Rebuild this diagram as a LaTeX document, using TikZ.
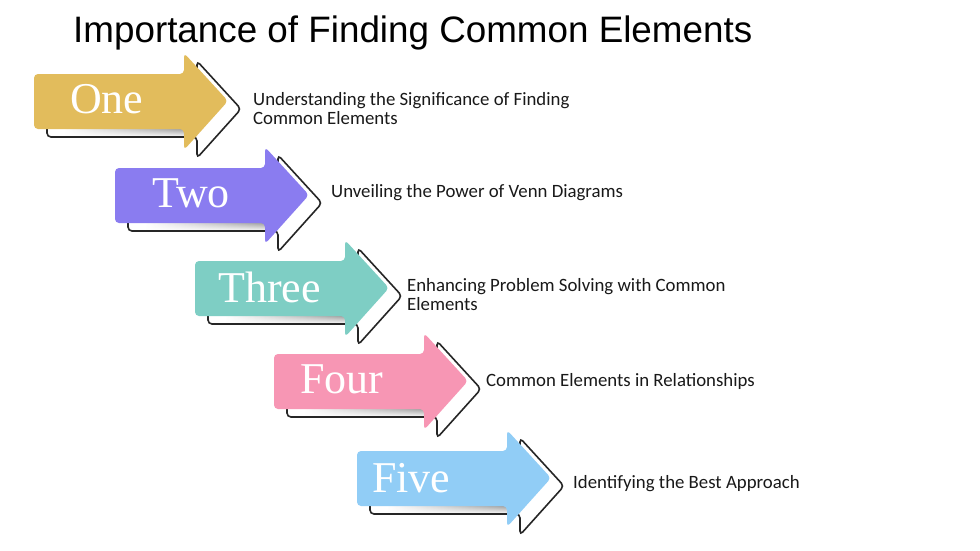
\documentclass[tikz,border=0pt]{standalone}
\usepackage{fontspec}
\setmainfont{Liberation Serif}
\newfontfamily\titlefont{Liberation Sans}
\newfontfamily\bodyfont{Carlito}
\usetikzlibrary{fadings}
\definecolor{cOne}{RGB}{226,188,92}
\definecolor{cTwo}{RGB}{138,124,240}
\definecolor{cThree}{RGB}{126,206,196}
\definecolor{cFour}{RGB}{247,150,180}
\definecolor{cFive}{RGB}{145,205,246}
\newcommand\ArrowRow[3]{%
 \begin{scope}[shift={(#1,#2)}]
  \path[fill=white, rounded corners=4] (13,-19) -- (163,-19) -- (163,-40) -- (207,8) -- (163,57) -- (163,36) -- (13,36) -- cycle;
  \shade[left color=white, right color=black!45, path fading=south] (30,27) rectangle (163,36);
  \draw[line width=1.6pt, draw=black!85, rounded corners=4] (13,-19) -- (163,-19) -- (163,-40) -- (207,8) -- (163,57) -- (163,36) -- (13,36) -- cycle;
  \fill[#3, rounded corners=4] (0,-27) -- (150,-27) -- (150,-48) -- (194,0) -- (150,49) -- (150,28) -- (0,28) -- cycle;
 \end{scope}}
\tikzset{
  numlbl/.style={anchor=base west, inner sep=0pt, text=white, font=\fontsize{44}{44}\selectfont},
  desc/.style={anchor=base west, inner sep=0pt, align=left, text=black!90, font=\bodyfont\fontsize{18.8}{19}\selectfont},
}
\begin{document}
\begin{tikzpicture}[x=1pt,y=-1pt]
\useasboundingbox (0,0) rectangle (980,550);
\fill[white] (0,0) rectangle (980,550);
\node[anchor=base west, inner sep=0pt, font=\titlefont\fontsize{36.8}{40}\selectfont] (title) at (73,42) {Importance of Finding Common Elements};

\ArrowRow{34}{101}{cOne}
\ArrowRow{115}{195}{cTwo}
\ArrowRow{195}{288}{cThree}
\ArrowRow{274}{381}{cFour}
\ArrowRow{357}{478}{cFive}

\node[numlbl] (n1) at (70,113) {One};
\node[numlbl] (n2) at (152,207) {Two};
\node[numlbl] (n3) at (218,302) {Three};
\node[numlbl] (n4) at (300,393) {Four};
\node[numlbl] (n5) at (372,492) {Five};

\node[desc] (d1) at (253,124) {Understanding the Significance of Finding\\Common Elements};
\node[desc] (d2) at (331,197) {Unveiling the Power of Venn Diagrams};
\node[desc] (d3) at (407,310) {Enhancing Problem Solving with Common\\Elements};
\node[desc] (d4) at (486,386) {Common Elements in Relationships};
\node[desc] (d5) at (573,488) {Identifying the Best Approach};
\end{tikzpicture}
\end{document}
